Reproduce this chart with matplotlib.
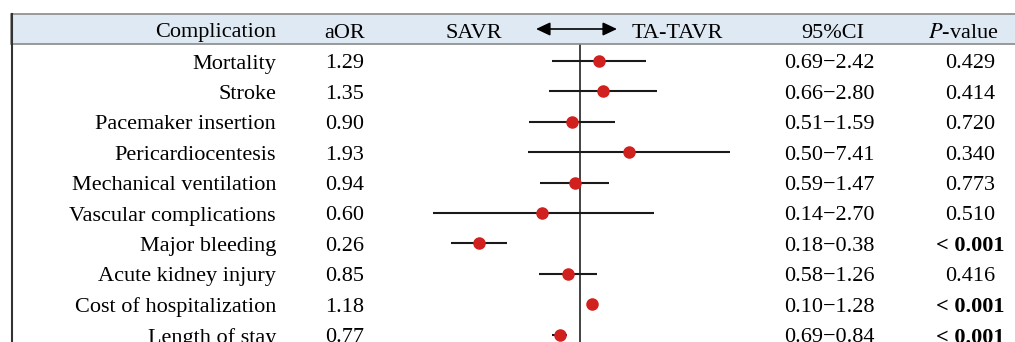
import numpy as np
import matplotlib.pyplot as plt
from matplotlib.patches import Rectangle, FancyArrowPatch

complications = ["Mortality", "Stroke", "Pacemaker insertion", "Pericardiocentesis",
                 "Mechanical ventilation", "Vascular complications", "Major bleeding",
                 "Acute kidney injury", "Cost of hospitalization", "Length of stay"]
aor = [1.29, 1.35, 0.90, 1.93, 0.94, 0.60, 0.26, 0.85, 1.18, 0.77]
ci_text = ["0.69\u22122.42", "0.66\u22122.80", "0.51\u22121.59", "0.50\u22127.41",
           "0.59\u22121.47", "0.14\u22122.70", "0.18\u22120.38", "0.58\u22121.26",
           "0.10\u22121.28", "0.69\u22120.84"]
# whisker ends as drawn in the figure
ci_low = [0.69, 0.66, 0.51, 0.50, 0.59, 0.14, 0.18, 0.58, 1.15, 0.69]
ci_high = [2.42, 2.80, 1.59, 7.41, 1.47, 2.70, 0.38, 1.26, 1.22, 0.84]
pvals = ["0.429", "0.414", "0.720", "0.340", "0.773", "0.510", "< 0.001",
         "0.416", "< 0.001", "< 0.001"]
p_bold = [False, False, False, False, False, False, True, False, True, True]

W, H = 1015, 342
FONT = "Liberation Serif"
FS = 16

fig = plt.figure(figsize=(W / 100, H / 100), dpi=100)


# pixel helpers for layout
def fx(px):
    return px / W


def fy(py):
    return 1 - py / H


# header band
fig.patches.append(Rectangle((fx(11), fy(44)), fx(W + 5) - fx(11), fy(14) - fy(44),
                             transform=fig.transFigure, facecolor="#dfe9f4",
                             edgecolor="#8a8a8a", linewidth=1.2, zorder=0))
fig.add_artist(plt.Line2D([fx(11.5), fx(11.5)], [fy(14), 0], transform=fig.transFigure,
                          color="#333333", linewidth=1.5))

TXT_OFF = 3  # text sits slightly below the row centre
hy = fy(30 + TXT_OFF)
fig.text(fx(276), hy, "Complication", ha="right", va="center", family=FONT, fontsize=FS)
fig.text(fx(345), hy, "aOR", ha="center", va="center", family=FONT, fontsize=FS)
fig.text(fx(474), hy, "SAVR", ha="center", va="center", family=FONT, fontsize=FS)
fig.text(fx(677), hy, "TA-TAVR", ha="center", va="center", family=FONT, fontsize=FS)
fig.text(fx(833), hy, "95%CI", ha="center", va="center", family=FONT, fontsize=FS)
fig.text(fx(963), hy, "$\\mathit{P}$-value", ha="center", va="center", family=FONT,
         fontsize=FS, math_fontfamily="stix")
fig.patches.append(FancyArrowPatch((fx(536), fy(29)), (fx(617), fy(29)),
                                   transform=fig.transFigure,
                                   arrowstyle="<|-|>,head_length=8.5,head_width=4",
                                   mutation_scale=1, color="black", lw=1.2,
                                   shrinkA=0, shrinkB=0))

# forest axes: log scale, ~75 px per ln unit, centered on 1 at x=580
half = 200 / 75
ax = fig.add_axes([fx(380), fy(342), fx(780) - fx(380), fy(44) - fy(342)])
ax.set_xscale("log")
ax.set_xlim(np.exp(-half), np.exp(half))
row0, step = 61, 30.4
ax.set_ylim((342 - row0) / step, (44 - row0) / step)
ax.axis("off")
ax.axvline(1.0, color="#222222", linewidth=1.2, zorder=1)
ys = np.arange(len(aor))
ax.hlines(ys, ci_low, ci_high, color="#1a1a1a", linewidth=1.5, zorder=2)
ax.plot(aor, ys, "o", color="#d0211f", markersize=8, zorder=3)

for i in range(len(complications)):
    y = fy(row0 + step * i + TXT_OFF)
    fig.text(fx(276), y, complications[i], ha="right", va="center", family=FONT, fontsize=FS)
    fig.text(fx(345), y, f"{aor[i]:.2f}", ha="center", va="center", family=FONT, fontsize=FS)
    fig.text(fx(829), y, ci_text[i], ha="center", va="center", family=FONT, fontsize=FS)
    fig.text(fx(970), y, pvals[i], ha="center", va="center", family=FONT, fontsize=FS,
             fontweight="bold" if p_bold[i] else "normal")

fig.savefig("out.png", dpi=100)
